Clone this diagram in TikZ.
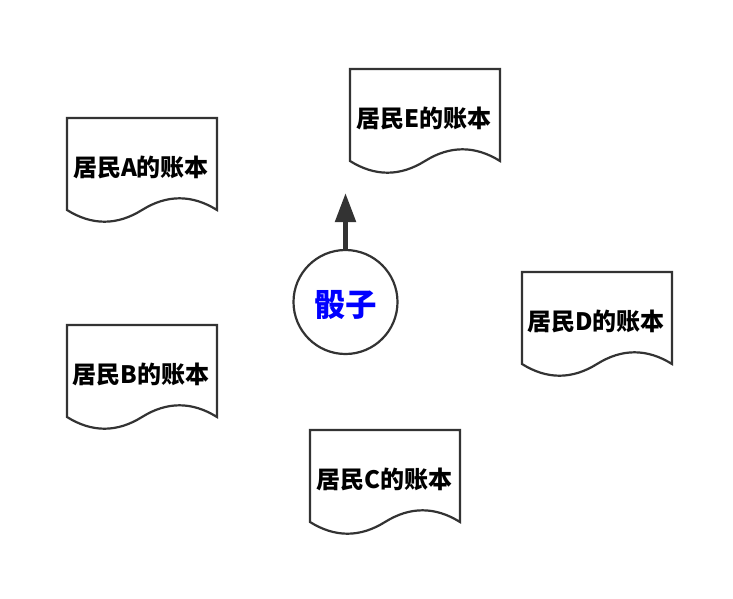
\documentclass[tikz,border=0pt]{standalone}
\usepackage{fontspec}
\newfontfamily\cjk{Noto Sans CJK SC}
\usetikzlibrary{arrows.meta}
\definecolor{linegray}{HTML}{333333}
\tikzset{
  docline/.style={draw=linegray, line width=2.2pt, fill=white, line join=miter},
  doctext/.style={font=\cjk\bfseries\fontsize{24}{28}\selectfont, text=black, inner sep=0pt},
  docpic/.pic={
    \draw[docline] (0,0) -- (150,0) -- (150,92)
      .. controls (125,76.4) and (100,76.4) .. (75,92)
      .. controls (50,107.6) and (25,107.6) .. (0,92) -- cycle;
  }
}
\begin{document}
\begin{tikzpicture}[x=1pt,y=-1pt]
\useasboundingbox (0,0) rectangle (733,598);
\fill[white] (0,0) rectangle (733,598);
% documents
\pic at (67,118) {docpic};
\node[doctext] (a) at (141,167) {居民A的账本};
\pic at (67,325) {docpic};
\node[doctext] (b) at (141,374) {居民B的账本};
\pic at (310,430) {docpic};
\node[doctext] (c) at (384,479) {居民C的账本};
\pic at (522,272) {docpic};
\node[doctext] (d) at (596,321) {居民D的账本};
\pic at (350,69) {docpic};
\node[doctext] (e) at (424,118) {居民E的账本};
% dice
\node[circle, draw=linegray, line width=2.2pt, minimum size=104pt, inner sep=0pt] (dice) at (345.5,302) {};
\node[font=\cjk\bfseries\fontsize{31.5}{34}\selectfont, text=blue, inner sep=0pt] (dicetext) at (345.5,305) {骰子};
\coordinate (tip) at (345.5,193);
\draw[linegray, line width=5pt, -{Triangle[length=29pt,width=20pt]}] (dice.north) -- (tip);
\end{tikzpicture}
\end{document}
